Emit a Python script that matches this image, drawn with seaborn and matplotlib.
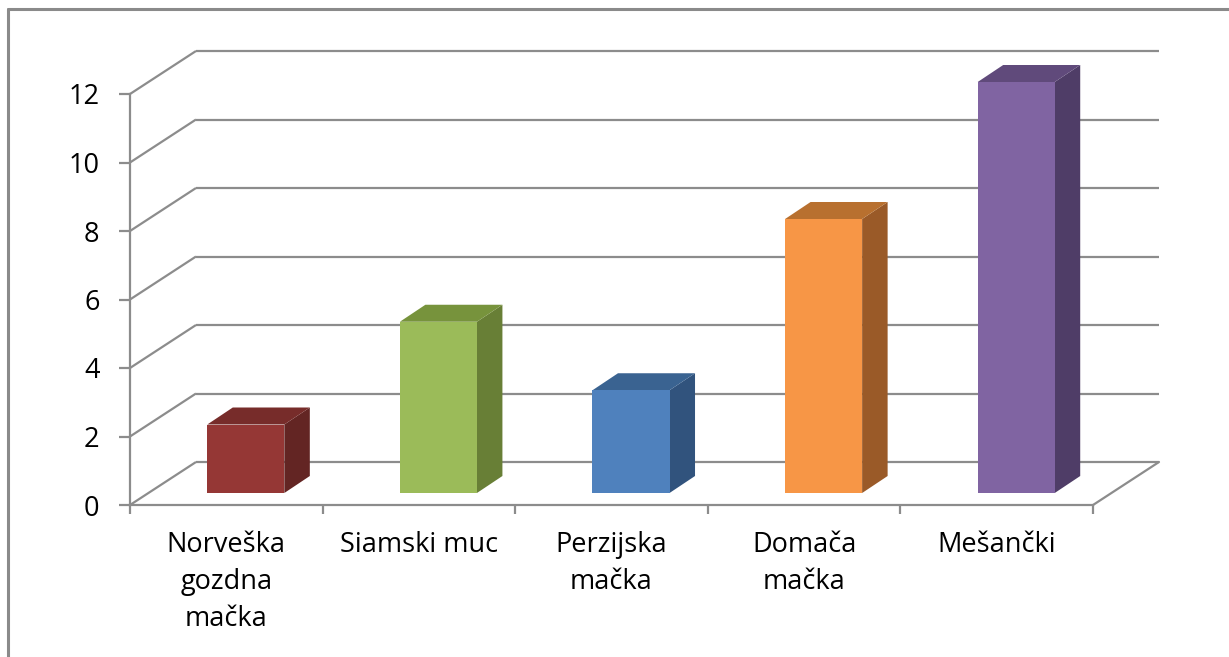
import matplotlib
matplotlib.use("Agg")
import matplotlib.pyplot as plt
import seaborn as sns
import numpy as np
from matplotlib.patches import Polygon
from matplotlib.transforms import offset_copy
from matplotlib.lines import Line2D

# ---- data ----
categories = ["Norveška\ngozdna\nmačka", "Siamski muc", "Perzijska\nmačka", "Domača\nmačka", "Mešančki"]
values = [2, 5, 3, 8, 12]
y_ticks = [0, 2, 4, 6, 8, 10, 12]
front_colors = ["#953735", "#9BBB59", "#4F81BD", "#F79646", "#8064A2"]
top_colors = ["#772C2A", "#77933C", "#3A6391", "#B8702F", "#604A7B"]
side_colors = ["#632523", "#687F36", "#31537D", "#9A5A28", "#4F3D67"]

sns.set_theme(style="white")
plt.rcParams["font.family"] = ["Open Sans", "DejaVu Sans"]

W, H = 1229, 657
fig = plt.figure(figsize=(W / 100, H / 100), dpi=100, facecolor="white")
L, R, T, B = 130, 1093, 94, 505
ax = fig.add_axes([L / W, (H - B) / H, (R - L) / W, (B - T) / H])
ax.patch.set_alpha(0)

sns.barplot(x=categories, y=values, hue=categories, palette=front_colors,
            saturation=1, width=0.4, legend=False, ax=ax, linewidth=0)
n = len(categories)
ax.set_xlim(-0.5, n - 0.5)
ax.set_ylim(0, 12)

# pixel offsets -> data units
sx = (R - L) / n
sy = (B - T) / 12.0
def px(dx, dy):
    return dx / sx, dy / sy

grid_c = "#8c8c8c"
glw = 1.6
wx, wy = px(66, 43)
box, boy = px(19.5, 12)
bdx, bdy = px(25.5, 17)

# 3D gridlines (left wall + back wall)
for v in y_ticks:
    ax.plot([-0.5, -0.5 + wx], [v, v + wy], color=grid_c, lw=glw, clip_on=False, zorder=1,
            solid_capstyle="butt")
    ax.plot([-0.5 + wx, n - 0.5 + wx], [v + wy, v + wy], color=grid_c, lw=glw, clip_on=False,
            zorder=1, solid_capstyle="butt")
# floor right edge
ax.plot([n - 0.5, n - 0.5 + wx], [0, wy], color=grid_c, lw=glw, clip_on=False, zorder=1)

# bars: shift front faces into depth and add top/side faces
shift = offset_copy(ax.transData, fig=fig, x=19.5, y=12, units="dots")
patches = sorted(ax.patches, key=lambda p: p.get_x())
for i, p in enumerate(patches):
    p.set_transform(shift)
    p.set_clip_on(False)
    p.set_zorder(4)
    x0 = p.get_x()
    x1 = x0 + p.get_width()
    h = p.get_height()
    top = [(x0 + box, h + boy), (x1 + box, h + boy), (x1 + box + bdx, h + boy + bdy),
           (x0 + box + bdx, h + boy + bdy)]
    side = [(x1 + box, boy), (x1 + box, h + boy), (x1 + box + bdx, h + boy + bdy),
            (x1 + box + bdx, boy + bdy)]
    ax.add_patch(Polygon(side, closed=True, facecolor=side_colors[i], edgecolor="none",
                         clip_on=False, zorder=3))
    ax.add_patch(Polygon(top, closed=True, facecolor=top_colors[i], edgecolor="none",
                         clip_on=False, zorder=3))

# axes styling
for s in ["top", "right"]:
    ax.spines[s].set_visible(False)
for s in ["left", "bottom"]:
    ax.spines[s].set_color(grid_c)
    ax.spines[s].set_linewidth(glw)
    ax.spines[s].set_zorder(2)

fs = 19.5
ax.set_yticks(y_ticks)
ax.set_yticklabels([str(v) for v in y_ticks])
ax.tick_params(axis="y", direction="out", length=7.9, width=glw, color=grid_c, pad=14,
               labelsize=fs, labelcolor="black", left=True)
ax.set_xticks(range(n))
ax.set_xticklabels(categories, linespacing=1.42, multialignment="center")
ax.set_xticks(np.arange(-0.5, n, 1.0), minor=True)
ax.tick_params(axis="x", which="major", length=0, pad=19, labelsize=fs, labelcolor="black")
ax.tick_params(axis="x", which="minor", direction="out", length=6.5, width=glw, color=grid_c,
               bottom=True)
ax.set_xlabel("")
ax.set_ylabel("")

# chart border (left and top visible)
bc = "#8a8a8a"
fig.add_artist(Line2D([8 / W, 8 / W], [0, 1 - 9 / H], transform=fig.transFigure, color=bc, lw=2.2))
fig.add_artist(Line2D([8 / W, 1], [1 - 9 / H, 1 - 9 / H], transform=fig.transFigure, color=bc, lw=2.2))

fig.savefig("out.png", dpi=100, facecolor="white")
